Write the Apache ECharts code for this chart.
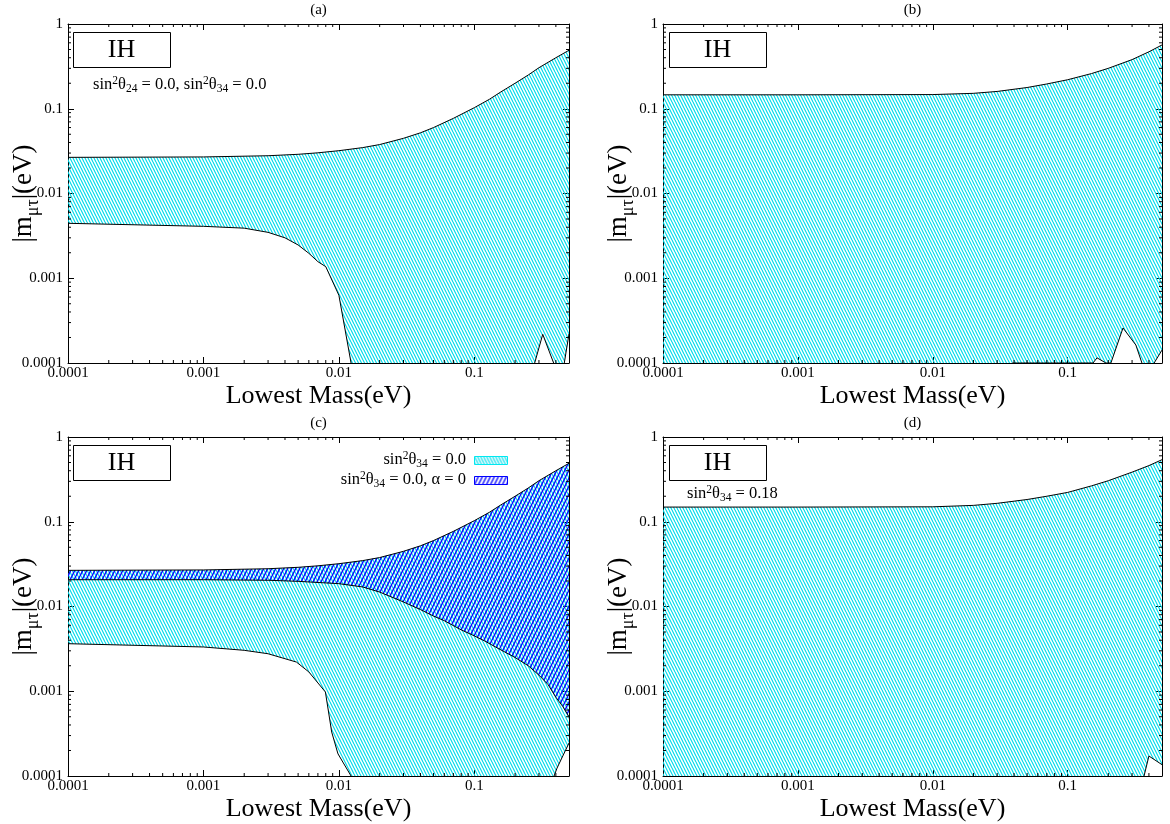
<!DOCTYPE html>
<html><head><meta charset="utf-8">
<script src="https://cdn.jsdelivr.net/npm/echarts@6/dist/echarts.min.js"></script>
<style>html,body{margin:0;padding:0;background:#fff}#c{width:1170px;height:824px}</style>
</head><body><div id="c"></div>
<script>
// ---------- axis furniture ----------
const xTickValues = [0.0001, 0.001, 0.01, 0.1];
const xTickLabels = ['0.0001', '0.001', '0.01', '0.1'];
const yTickValues = [0.0001, 0.001, 0.01, 0.1, 1];
const yTickLabels = ['0.0001', '0.001', '0.01', '0.1', '1'];
const xRange = [0.0001, 0.5];
const yRange = [0.0001, 1];
const panelTitles = ['(a)', '(b)', '(c)', '(d)'];
const xTitle = 'Lowest Mass(eV)';

// ---------- panel (a) ----------
const aUpper = [[0.0001,0.0267],[0.001,0.027],[0.003,0.0279],[0.005,0.029],[0.007,0.0302],[0.01,0.032],[0.015,0.0348],[0.02,0.0378],[0.03,0.0448],[0.04,0.052],[0.05,0.06],[0.07,0.077],[0.1,0.103],[0.13,0.13],[0.155,0.156],[0.2,0.2],[0.25,0.25],[0.3,0.305],[0.4,0.4],[0.5,0.49]];
const aLower = [[0.0001,0.00445],[0.001,0.0041],[0.002,0.0039],[0.003,0.00348],[0.004,0.003],[0.005,0.00247],[0.006,0.00197],[0.007,0.00157],[0.008,0.00137],[0.01,0.00063],[0.0123,0.0001],[0.013,0.00005],[0.27,0.00005],[0.279,0.0001],[0.32,0.000218],[0.385,0.0001],[0.39,0.00005],[0.43,0.00005],[0.5,0.00022]];
// ---------- panel (b) ----------
const bUpper = [[0.0001,0.146],[0.001,0.146],[0.01,0.147],[0.02,0.152],[0.03,0.16],[0.05,0.178],[0.07,0.196],[0.1,0.22],[0.15,0.26],[0.2,0.3],[0.3,0.38],[0.4,0.47],[0.5,0.566]];
const bLower = [[0.0001,0.00005],[0.0385,0.00005],[0.0388,0.0001],[0.039,0.000104],[0.0393,0.0001],[0.154,0.0001],[0.165,0.000115],[0.192,0.0001],[0.209,0.0001],[0.257,0.000259],[0.32,0.000163],[0.355,0.0001],[0.36,0.00005],[0.43,0.00005],[0.437,0.0001],[0.5,0.000142]];
// ---------- panel (c) ----------
const cUpper = [[0.0001,0.0267],[0.001,0.027],[0.003,0.0279],[0.005,0.029],[0.007,0.0302],[0.01,0.032],[0.015,0.0348],[0.02,0.0378],[0.03,0.0448],[0.04,0.052],[0.05,0.06],[0.07,0.077],[0.1,0.103],[0.13,0.13],[0.155,0.156],[0.2,0.2],[0.25,0.25],[0.3,0.305],[0.4,0.4],[0.5,0.49]];
const cMiddle = [[0.0001,0.0207],[0.001,0.0207],[0.003,0.0204],[0.005,0.0198],[0.01,0.0186],[0.015,0.017],[0.02,0.0148],[0.03,0.0113],[0.04,0.0092],[0.05,0.0077],[0.06,0.0068],[0.08,0.0053],[0.1,0.0045],[0.12,0.0039],[0.15,0.0032],[0.2,0.0025],[0.25,0.002],[0.3,0.00155],[0.35,0.0012],[0.4,0.00085],[0.45,0.00066],[0.5,0.0005]];
const cLower = [[0.0001,0.00364],[0.001,0.00333],[0.002,0.00304],[0.003,0.00277],[0.00486,0.00221],[0.006,0.00169],[0.00795,0.00098],[0.00885,0.00033],[0.00984,0.000183],[0.0123,0.0001],[0.013,0.00005],[0.38,0.00005],[0.388,0.0001],[0.408,0.000124],[0.5,0.000245]];
// ---------- panel (d) ----------
const dUpper = [[0.0001,0.149],[0.001,0.149],[0.01,0.15],[0.02,0.156],[0.03,0.165],[0.05,0.183],[0.07,0.2],[0.1,0.222],[0.15,0.265],[0.2,0.305],[0.3,0.385],[0.4,0.46],[0.5,0.54]];
const dLower = [[0.0001,0.00005],[0.36,0.00005],[0.368,0.0001],[0.40,0.000172],[0.5,0.000136]];

// ---------- style helpers ----------
const FONT = 'Liberation Serif';
function hatch(color, dir, w, h, lw) {
  const c = document.createElement('canvas');
  c.width = w; c.height = h;
  const g = c.getContext('2d');
  g.strokeStyle = color; g.lineWidth = lw; g.lineCap = 'butt';
  g.beginPath();
  for (let k = -1; k <= 1; k++) {
    if (dir === 'b') { g.moveTo(k * w, 0); g.lineTo(k * w + w, h); }
    else { g.moveTo(k * w, h); g.lineTo(k * w + w, 0); }
  }
  g.stroke();
  return c;
}
const cyanFill = { image: hatch('#00dcec', 'b', 3, 6, 1.2), repeat: 'repeat' };
const blueFill = { image: hatch('#0a0aff', 'f', 4, 8, 1.4), repeat: 'repeat' };

const grids = [
  { left: 68, top: 24, width: 501, height: 339 },
  { left: 663, top: 24, width: 499, height: 339 },
  { left: 68, top: 437, width: 501, height: 339 },
  { left: 663, top: 437, width: 499, height: 339 }
].map(g => Object.assign(g, { containLabel: false, outerBoundsMode: 'none' }));

const xMinor = [], yMinor = [];
for (let e = -4; e < 0; e++) for (let k = 2; k <= 9; k++) {
  const v = k * Math.pow(10, e);
  if (v < xRange[1] * 0.999) xMinor.push(v);
  yMinor.push(v);
}

function labelFor(values, labels) {
  return function (v) {
    for (let i = 0; i < values.length; i++) if (Math.abs(Math.log10(v) - Math.log10(values[i])) < 1e-6) return labels[i];
    return '';
  };
}

const xAxes = [], yAxes = [], series = [], titles = [];
const subRich = {
  m: { fontFamily: FONT, fontSize: 27, lineHeight: 37, verticalAlign: 'middle', color: '#000' },
  s: { fontFamily: FONT, fontSize: 18, lineHeight: 18, verticalAlign: 'bottom', color: '#000' }
};
grids.forEach((g, i) => {
  const common = { type: 'log', logBase: 10, gridIndex: i, min: xRange[0], max: xRange[1], interval: 1,
    splitLine: { show: false }, axisLine: { show: true, lineStyle: { color: '#000', width: 1 } },
    axisTick: { show: true, inside: true, length: 6, lineStyle: { color: '#000' } } };
  xAxes.push(Object.assign({}, common, { position: 'bottom',
    axisLabel: { formatter: labelFor(xTickValues, xTickLabels), fontFamily: FONT, fontSize: 15, color: '#000', margin: 3 },
    name: xTitle, nameLocation: 'middle', nameGap: 20, nameMoveOverlap: false,
    nameTextStyle: { fontFamily: FONT, fontSize: 26, color: '#000' } }));
  xAxes.push(Object.assign({}, common, { position: 'top', axisLabel: { show: false } }));
  const ycommon = Object.assign({}, common, { min: yRange[0], max: yRange[1] });
  yAxes.push(Object.assign({}, ycommon, { position: 'left',
    axisLabel: { formatter: labelFor(yTickValues, yTickLabels), fontFamily: FONT, fontSize: 15, color: '#000', margin: 5 },
    name: '{m||m}{s|μτ}{m||(eV)}', nameLocation: 'middle', nameRotate: 90, nameGap: 26, nameMoveOverlap: false,
    nameTextStyle: { rich: subRich } }));
  yAxes.push(Object.assign({}, ycommon, { position: 'right', axisLabel: { show: false } }));
  titles.push({ text: panelTitles[i], left: g.left + g.width / 2, top: g.top - 21, textAlign: 'center', padding: 0,
    textStyle: { fontFamily: FONT, fontSize: 15, fontWeight: 'normal', color: '#000' } });

  // minor ticks (log spaced) on all four sides
  const items = xMinor.map(v => [v, yRange[0], 0]).concat(yMinor.map(v => [xRange[0], v, 1]));
  series.push({ type: 'custom', name: 'minor ticks ' + i, xAxisIndex: 2 * i, yAxisIndex: 2 * i, silent: true, z: 6,
    data: items,
    renderItem(params, api) {
      const st = { stroke: '#000', lineWidth: 1 };
      if (api.value(2) === 0) {
        const v = api.value(0);
        const b = api.coord([v, yRange[0]]), t = api.coord([v, yRange[1]]);
        return { type: 'group', children: [
          { type: 'line', shape: { x1: b[0], y1: b[1], x2: b[0], y2: b[1] - 3 }, style: st },
          { type: 'line', shape: { x1: t[0], y1: t[1], x2: t[0], y2: t[1] + 3 }, style: st }] };
      } else {
        const v = api.value(1);
        const l = api.coord([xRange[0], v]), r = api.coord([xRange[1], v]);
        return { type: 'group', children: [
          { type: 'line', shape: { x1: l[0], y1: l[1], x2: l[0] + 3, y2: l[1] }, style: st },
          { type: 'line', shape: { x1: r[0], y1: r[1], x2: r[0] - 3, y2: r[1] }, style: st }] };
      }
    } });
});

function band(gi, name, upper, lower, fill, z) {
  const pts = upper.concat(lower.slice().reverse());
  return { type: 'custom', name, xAxisIndex: 2 * gi, yAxisIndex: 2 * gi, clip: true, silent: true, z,
    data: pts,
    renderItem(params, api) {
      if (params.dataIndexInside !== 0) return null;
      const poly = [];
      for (let k = 0; k < params.dataInsideLength; k++) poly.push(api.coord([api.value(0, k), api.value(1, k)]));
      return { type: 'polygon', shape: { points: poly }, style: { fill, stroke: null } };
    } };
}
function curve(gi, name, data) {
  return { type: 'line', name, xAxisIndex: 2 * gi, yAxisIndex: 2 * gi, data, symbol: 'none', clip: true,
    silent: true, z: 4, lineStyle: { color: '#000', width: 1 } };
}

series.push(band(0, 'a band', aUpper, aLower, cyanFill, 2), curve(0, 'a upper', aUpper), curve(0, 'a lower', aLower));
series.push(band(1, 'b band', bUpper, bLower, cyanFill, 2), curve(1, 'b upper', bUpper), curve(1, 'b lower', bLower));
series.push(band(2, 'c band', cUpper, cLower, cyanFill, 2), band(2, 'c alpha0', cUpper, cMiddle, blueFill, 3),
  curve(2, 'c upper', cUpper), curve(2, 'c middle', cMiddle), curve(2, 'c lower', cLower));
series.push(band(3, 'd band', dUpper, dLower, cyanFill, 2), curve(3, 'd upper', dUpper), curve(3, 'd lower', dLower));

// ---------- annotations ----------
const annRich = {
  m: { fontFamily: FONT, fontSize: 16.5, lineHeight: 20, verticalAlign: 'middle', color: '#000' },
  p: { fontFamily: FONT, fontSize: 11.5, lineHeight: 11, verticalAlign: 'top', color: '#000' },
  b: { fontFamily: FONT, fontSize: 11.5, lineHeight: 11, verticalAlign: 'bottom', color: '#000' }
};
function ihBox(x, y) {
  return [
    { type: 'rect', left: x, top: y, shape: { width: 97, height: 35 }, style: { fill: '#fff', stroke: '#000', lineWidth: 1 }, z: 10 },
    { type: 'text', x: x + 48.5, y: y + 18, style: { text: 'IH', font: '26px "Liberation Serif"', fill: '#000', align: 'center', verticalAlign: 'middle' }, z: 11 }
  ];
}
function richText(x, y, text, align) {
  return { type: 'text', x, y, z: 11, style: { text, rich: annRich, align: align || 'left', verticalAlign: 'middle', fill: '#000', font: '16px "Liberation Serif"' } };
}
const graphics = [].concat(
  ihBox(73, 32), ihBox(669, 32), ihBox(73, 445), ihBox(669, 445),
  [richText(93, 85, '{m|sin}{p|2}{m|θ}{b|24}{m| = 0.0, sin}{p|2}{m|θ}{b|34}{m| = 0.0}'),
   richText(687, 494, '{m|sin}{p|2}{m|θ}{b|34}{m| = 0.18}'),
   richText(466, 460, '{m|sin}{p|2}{m|θ}{b|34}{m| = 0.0}', 'right'),
   richText(466, 480, '{m|sin}{p|2}{m|θ}{b|34}{m| = 0.0, α = 0}', 'right'),
   { type: 'rect', left: 474, top: 456, z: 11, shape: { width: 33, height: 8 }, style: { fill: cyanFill, stroke: '#00e8f0', lineWidth: 1 } },
   { type: 'rect', left: 474, top: 476, z: 11, shape: { width: 33, height: 8 }, style: { fill: blueFill, stroke: '#0000ff', lineWidth: 1 } }]
);

const chart = echarts.init(document.getElementById('c'), null, { renderer: 'canvas' });
chart.setOption({
  backgroundColor: '#fff',
  animation: false,
  title: titles,
  grid: grids,
  xAxis: xAxes,
  yAxis: yAxes,
  series,
  graphic: graphics
});
</script></body></html>
